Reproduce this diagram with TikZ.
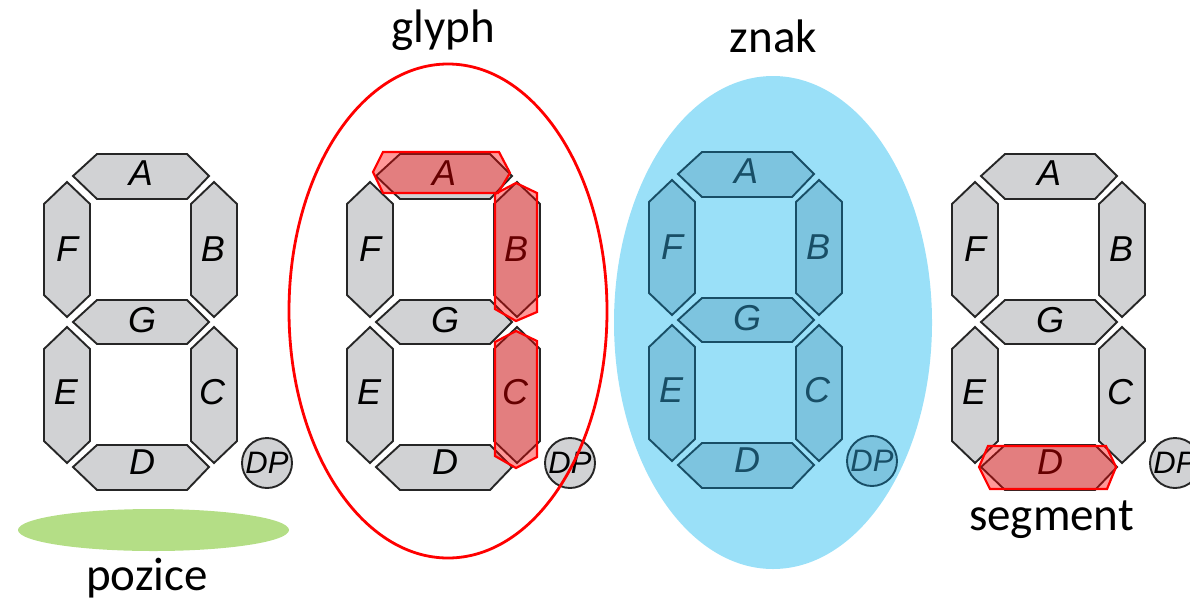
\documentclass[tikz,border=0pt]{standalone}
\usepackage{fontspec}
\setsansfont{Liberation Sans}
\newfontfamily\calibri{Carlito}
\definecolor{seggray}{RGB}{209,210,212}
\definecolor{bgblue}{RGB}{154,224,248}
\definecolor{segblue}{RGB}{125,196,223}
\definecolor{lineblue}{RGB}{24,78,102}
\definecolor{greenell}{RGB}{180,222,134}
\tikzset{
  seg/.style={fill=seggray, draw=black!85, line width=1.9pt, line join=miter},
  lbl/.style={font=\sffamily\itshape\fontsize{36}{36}\selectfont, inner sep=0pt, text=black},
  dpc/.style={circle, draw=black!85, fill=seggray, line width=1.9pt, minimum size=50pt, inner sep=0pt,
              font=\sffamily\itshape\fontsize{31}{31}\selectfont},
  bluedigit/.style={fill=segblue, draw=lineblue, text=lineblue},
  hilite/.style={fill=red, fill opacity=0.4, draw=red, draw opacity=1, line width=2.2pt, line join=miter},
  word/.style={font=\calibri\fontsize{47}{47}\selectfont, inner sep=0pt, anchor=base}
}
\newcommand\sevenseg[4]{%
\begin{scope}[shift={(#1,#2)}]
\path[seg,#4] (73,176)--(97,154)--(187,154)--(209,176)--(187,199)--(97,199)--cycle;
\path[seg,#4] (73,322)--(97,300)--(187,300)--(209,322)--(187,344)--(97,344)--cycle;
\path[seg,#4] (73,467)--(97,445)--(187,445)--(209,467)--(187,490)--(97,490)--cycle;
\path[seg,#4] (67,182)--(90,204)--(90,295)--(67,317)--(44,295)--(44,204)--cycle;
\path[seg,#4] (67,327)--(90,349)--(90,441)--(67,463)--(44,441)--(44,349)--cycle;
\path[seg,#4] (214,182)--(237,204)--(237,295)--(214,317)--(191,295)--(191,204)--cycle;
\path[seg,#4] (214,327)--(237,349)--(237,441)--(214,463)--(191,441)--(191,349)--cycle;
\node[lbl,#4,fill=none,draw=none] (#3A) at (141,173) {A};
\node[lbl,#4,fill=none,draw=none] (#3B) at (213,249) {B};
\node[lbl,#4,fill=none,draw=none] (#3C) at (212,392) {C};
\node[lbl,#4,fill=none,draw=none] (#3D) at (142,462) {D};
\node[lbl,#4,fill=none,draw=none] (#3E) at (66,392) {E};
\node[lbl,#4,fill=none,draw=none] (#3F) at (67,249) {F};
\node[lbl,#4,fill=none,draw=none] (#3G) at (142,320) {G};
\node[dpc,#4] (#3DP) at (267,463) {DP};
\end{scope}}
\begin{document}
\begin{tikzpicture}[x=1pt,y=-1pt]
\useasboundingbox (0,0) rectangle (1190,600);
% background shapes
\path[fill=bgblue] (773,322.5) ellipse [x radius=159, y radius=246.5];
\path[fill=greenell] (153.5,530) ellipse [x radius=135.5, y radius=21];
% digits
\sevenseg{0}{0}{p}{}
\sevenseg{303}{0}{g}{}
\sevenseg{605}{-2}{z}{bluedigit}
\sevenseg{908}{0}{s}{}
% highlights
\path[hilite] (373,172)--(383,152)--(499,152)--(510,173)--(498,193)--(383,193)--cycle;
\path[hilite] (495,194)--(516,183)--(537,193)--(537,312)--(516,321)--(495,309)--cycle;
\path[hilite] (516,331)--(537,341)--(537,457)--(516,468)--(495,456)--(495,342)--cycle;
\path[hilite] (979,467)--(988,446)--(1106,446)--(1116,467)--(1107,489)--(990,489)--cycle;
% glyph ellipse
\draw[red, line width=2.8pt] (448,311) ellipse [x radius=159, y radius=247];
% words
\node[word] (glyph) at (443,42) {glyph};
\node[word] (znak) at (773.5,52) {znak};
\node[word] (pozice) at (147,590) {pozice};
\node[word] (segment) at (1051.5,530) {segment};
\end{tikzpicture}
\end{document}
